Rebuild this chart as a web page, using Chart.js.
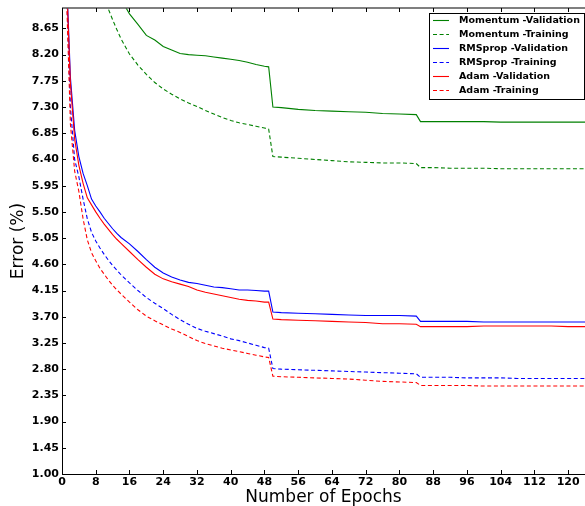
<!DOCTYPE html>
<html>
<head>
<meta charset="utf-8">
<script src="https://cdn.jsdelivr.net/npm/chart.js@4.4.0/dist/chart.umd.min.js"></script>
<style>
    html, body { margin: 0; padding: 0; background: #fff; }
</style>
</head>
<body>
<canvas id="error_canvas" width="585" height="506"></canvas>
<script>
var epochs = [1, 2, 3, 4, 5, 6, 7, 8, 9, 10, 11, 12, 13, 14,
    16, 18, 20, 22, 24, 26, 28, 30, 32, 34, 36, 38, 40, 42, 44, 46, 48,
    49, 50, 52, 56, 60, 64, 68, 72, 76, 80, 84, 85,
    88, 92, 96, 100, 104, 108, 112, 116, 120, 124];

var momentumVal = [16, 14.5, 13.5, 12.7, 12.0, 11.4, 10.9, 10.5, 10.15, 9.85, 9.6, 9.42, 9.28, 9.15,
    8.9, 8.72, 8.53, 8.45, 8.34, 8.28, 8.22, 8.2, 8.19, 8.18, 8.16, 8.14, 8.12, 8.1, 8.07, 8.03, 8.0,
    7.99, 7.30, 7.29, 7.26, 7.24, 7.23, 7.22, 7.21, 7.19, 7.18, 7.17, 7.05,
    7.05, 7.05, 7.05, 7.05, 7.04, 7.04, 7.04, 7.04, 7.04, 7.04];

var momentumTrain = [14, 12.8, 12, 11.3, 10.75, 10.3, 9.95, 9.65, 9.4, 9.18, 8.98, 8.8, 8.63, 8.47,
    8.21, 8.02, 7.86, 7.72, 7.61, 7.52, 7.44, 7.37, 7.31, 7.24, 7.18, 7.12, 7.07, 7.03, 7.0, 6.97, 6.94,
    6.92, 6.45, 6.44, 6.42, 6.40, 6.38, 6.36, 6.35, 6.34, 6.34, 6.33, 6.26,
    6.26, 6.25, 6.25, 6.25, 6.24, 6.24, 6.24, 6.24, 6.24, 6.24];

var rmspropVal = [9.7, 7.8, 6.9, 6.45, 6.16, 5.95, 5.72, 5.6, 5.5, 5.39, 5.3, 5.21, 5.13, 5.06,
    4.95, 4.82, 4.68, 4.55, 4.45, 4.38, 4.33, 4.29, 4.27, 4.24, 4.21, 4.2, 4.18, 4.16, 4.16, 4.15, 4.14,
    4.14, 3.78, 3.77, 3.76, 3.75, 3.74, 3.73, 3.72, 3.72, 3.72, 3.71, 3.62,
    3.62, 3.62, 3.62, 3.61, 3.61, 3.61, 3.61, 3.61, 3.61, 3.61];

var rmspropTrain = [9.5, 7.3, 6.4, 6.1, 5.72, 5.38, 5.15, 5.0, 4.88, 4.77, 4.67, 4.58, 4.5, 4.42,
    4.28, 4.15, 4.03, 3.93, 3.84, 3.74, 3.65, 3.57, 3.50, 3.45, 3.41, 3.37, 3.32, 3.29, 3.25, 3.21, 3.17,
    3.16, 2.81, 2.80, 2.79, 2.78, 2.77, 2.76, 2.75, 2.74, 2.73, 2.72, 2.66,
    2.66, 2.66, 2.65, 2.65, 2.65, 2.64, 2.64, 2.64, 2.64, 2.64];

var adamVal = [9.6, 7.7, 6.75, 6.3, 5.99, 5.74, 5.62, 5.5, 5.39, 5.29, 5.2, 5.11, 5.03, 4.96,
    4.82, 4.68, 4.55, 4.43, 4.35, 4.3, 4.26, 4.22, 4.16, 4.12, 4.09, 4.06, 4.03, 4.0, 3.98, 3.97, 3.95,
    3.95, 3.66, 3.65, 3.64, 3.63, 3.62, 3.61, 3.60, 3.58, 3.58, 3.57, 3.53,
    3.53, 3.53, 3.53, 3.54, 3.54, 3.54, 3.54, 3.54, 3.53, 3.53];

var adamTrain = [9.4, 7.0, 6.2, 5.85, 5.38, 5.02, 4.8, 4.66, 4.53, 4.43, 4.33, 4.24, 4.16, 4.09,
    3.95, 3.82, 3.71, 3.63, 3.56, 3.49, 3.43, 3.36, 3.29, 3.24, 3.2, 3.16, 3.13, 3.1, 3.07, 3.04, 3.01,
    3.0, 2.68, 2.67, 2.66, 2.65, 2.64, 2.63, 2.61, 2.59, 2.58, 2.57, 2.52,
    2.52, 2.52, 2.52, 2.51, 2.51, 2.51, 2.51, 2.51, 2.51, 2.51];

var seriesLabels = ["Momentum -Validation", "Momentum -Training", "RMSprop -Validation",
    "RMSprop -Training", "Adam -Validation", "Adam -Training"];

var xTicks = [0, 8, 16, 24, 32, 40, 48, 56, 64, 72, 80, 88, 96, 104, 112, 120];
var yTicks = [1.00, 1.45, 1.90, 2.35, 2.80, 3.25, 3.70, 4.15, 4.60, 5.05, 5.50, 5.95,
    6.40, 6.85, 7.30, 7.75, 8.20, 8.65];

var FONT = "'DejaVu Sans', 'Liberation Sans', sans-serif";

function toPoints(values) {
    return epochs.map(function (e, i) {
        return { x: e, y: values[i] };
    });
}

function makeDataset(i, values, color, dashed) {
    return {
        label: seriesLabels[i],
        data: toPoints(values),
        borderColor: color,
        backgroundColor: color,
        borderWidth: 1.1,
        borderDash: dashed ? [4, 2.6] : [],
        pointRadius: 0,
        tension: 0,
        fill: false,
        order: 6 - i,
    };
}

// inward tick marks and the top frame line, like the matplotlib original
var frameTicks = {
    id: "frameTicks",
    afterDraw: function (chart) {
        var ctx = chart.ctx;
        var area = chart.chartArea;
        var xs = chart.scales.x;
        var ys = chart.scales.y;
        ctx.save();
        ctx.strokeStyle = "#555";
        ctx.lineWidth = 1.5;
        ctx.beginPath();
        ctx.moveTo(area.left, area.top);
        ctx.lineTo(area.right, area.top);
        ctx.stroke();
        ctx.strokeStyle = "#000";
        ctx.lineWidth = 1;
        ctx.beginPath();
        xTicks.forEach(function (v) {
            var px = Math.round(xs.getPixelForValue(v)) + 0.5;
            ctx.moveTo(px, area.bottom);
            ctx.lineTo(px, area.bottom - 4);
            ctx.moveTo(px, area.top);
            ctx.lineTo(px, area.top + 4);
        });
        yTicks.forEach(function (v) {
            var py = Math.round(ys.getPixelForValue(v)) + 0.5;
            ctx.moveTo(area.left, py);
            ctx.lineTo(area.left + 4, py);
        });
        ctx.stroke();
        ctx.restore();
    },
};

// boxed legend in the upper right corner of the plot
var cornerLegend = {
    id: "cornerLegend",
    afterDraw: function (chart) {
        var ctx = chart.ctx;
        var area = chart.chartArea;
        var boxW = 155, boxH = 86;
        var x0 = area.right - boxW - 1;
        var y0 = area.top + 5;
        ctx.save();
        ctx.fillStyle = "#fff";
        ctx.fillRect(x0, y0, boxW, boxH);
        ctx.strokeStyle = "#000";
        ctx.lineWidth = 1;
        ctx.strokeRect(x0 + 0.5, y0 + 0.5, boxW, boxH);
        ctx.font = "bold 9.5px " + FONT;
        ctx.textBaseline = "middle";
        chart.data.datasets.forEach(function (ds, i) {
            var cy = y0 + 7.5 + i * 14;
            ctx.strokeStyle = ds.borderColor;
            ctx.lineWidth = 1.1;
            ctx.setLineDash(ds.borderDash);
            ctx.beginPath();
            ctx.moveTo(x0 + 4, cy);
            ctx.lineTo(x0 + 20, cy);
            ctx.stroke();
            ctx.setLineDash([]);
            ctx.fillStyle = "#000";
            ctx.fillText(ds.label, x0 + 30, cy);
        });
        ctx.restore();
    },
};

var errorChart = new Chart(document.getElementById("error_canvas"), {
    type: "line",
    data: {
        datasets: [
            makeDataset(0, momentumVal, "#008000", false),
            makeDataset(1, momentumTrain, "#008000", true),
            makeDataset(2, rmspropVal, "#0000ff", false),
            makeDataset(3, rmspropTrain, "#0000ff", true),
            makeDataset(4, adamVal, "#ff0000", false),
            makeDataset(5, adamTrain, "#ff0000", true),
        ],
    },
    options: {
        responsive: false,
        animation: false,
        layout: {
            padding: { top: 8, right: 0, left: 0, bottom: 0 },
        },
        plugins: {
            legend: { display: false },
            tooltip: { enabled: false },
        },
        scales: {
            x: {
                type: "linear",
                min: 0,
                max: 124,
                grid: { display: false, drawTicks: false },
                border: { display: true, color: "#000", width: 1 },
                afterBuildTicks: function (scale) {
                    scale.ticks = xTicks.map(function (v) { return { value: v }; });
                },
                afterFit: function (scale) {
                    scale.height = 32;
                    scale.paddingLeft = 0;
                    scale.paddingRight = 0;
                },
                ticks: {
                    autoSkip: false,
                    maxRotation: 0,
                    padding: 3,
                    color: "#000",
                    font: { family: FONT, size: 11, weight: "bold", lineHeight: 1 },
                },
                title: {
                    display: true,
                    text: "Number of Epochs",
                    color: "#000",
                    padding: { top: 0, bottom: 0 },
                    font: { family: FONT, size: 17, lineHeight: 1 },
                },
            },
            y: {
                min: 1,
                max: 9,
                grid: { display: false, drawTicks: false },
                border: { display: true, color: "#000", width: 1 },
                afterBuildTicks: function (scale) {
                    scale.ticks = yTicks.map(function (v) { return { value: v }; });
                },
                afterFit: function (scale) {
                    scale.width = 62;
                    scale.paddingTop = 0;
                    scale.paddingBottom = 0;
                },
                ticks: {
                    padding: 3,
                    color: "#000",
                    font: { family: FONT, size: 11, weight: "bold" },
                    callback: function (value) {
                        return Number(value).toFixed(2);
                    },
                },
                title: {
                    display: true,
                    text: "Error (%)",
                    color: "#000",
                    padding: { top: 10.5, bottom: 0 },
                    font: { family: FONT, size: 17, lineHeight: 1 },
                },
            },
        },
    },
    plugins: [frameTicks, cornerLegend],
});
</script>
</body>
</html>
